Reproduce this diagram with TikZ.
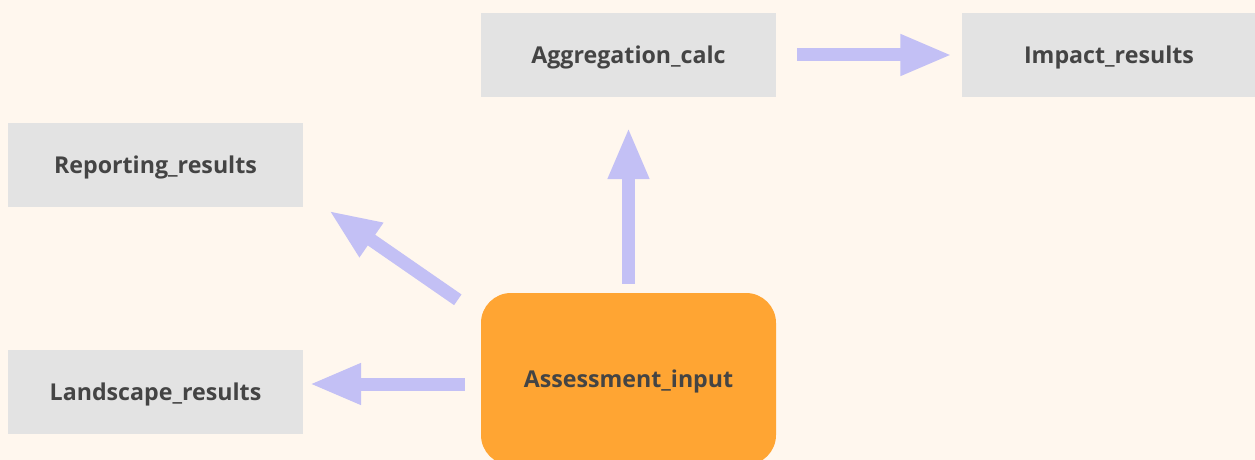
\documentclass[tikz,border=0pt]{standalone}
\usepackage{fontspec}
\setmainfont{Open Sans}
\usetikzlibrary{arrows.meta}
\definecolor{bgc}{HTML}{FFF7EE}
\definecolor{boxc}{HTML}{E3E3E3}
\definecolor{orc}{HTML}{FFA533}
\definecolor{arc}{HTML}{C3C0F5}
\definecolor{txc}{HTML}{444444}
\begin{document}
\begin{tikzpicture}[x=1pt,y=-1pt,
  lbl/.style={inner sep=0pt,text=txc,font=\fontsize{23.2}{27}\selectfont\bfseries,text height=16.6pt,text depth=0pt},
  gbox/.style={lbl,fill=boxc,minimum width=295pt,minimum height=84pt},
  obox/.style={lbl,fill=orc,rounded corners=30pt,minimum width=295pt,minimum height=172pt},
  arr/.style={draw=arc,line width=13pt,-{Triangle[length=52pt,width=38pt]}}]
\useasboundingbox (0,0) rectangle (1255,460);
\fill[bgc] (0,0) rectangle (1255,460);
\clip (0,0) rectangle (1255,460);
\node[gbox] (agg) at (628.5,55) {Aggregation\_calc};
\node[gbox] (imp) at (1109,55) {Impact\_results};
\node[gbox] (rep) at (155.5,165) {Reporting\_results};
\node[gbox] (land) at (155.5,392) {Landscape\_results};
\node[obox] (ass) at (628.5,379) {Assessment\_input};
\draw[arr,shorten <=21pt,shorten >=9pt] (agg.east) -- (imp.west);
\draw[arr,shorten <=9pt,shorten >=30pt] (ass.north) -- (agg.south);
\draw[arr,shorten <=16pt,shorten >=6pt] ([yshift=-5pt]ass.west) -- ([yshift=8pt]land.east);
\draw[arr,shorten >=-3pt] ([xshift=-23pt,yshift=-7pt]ass.north west) -- ([xshift=28pt,yshift=-5pt]rep.south east);
\end{tikzpicture}
\end{document}
